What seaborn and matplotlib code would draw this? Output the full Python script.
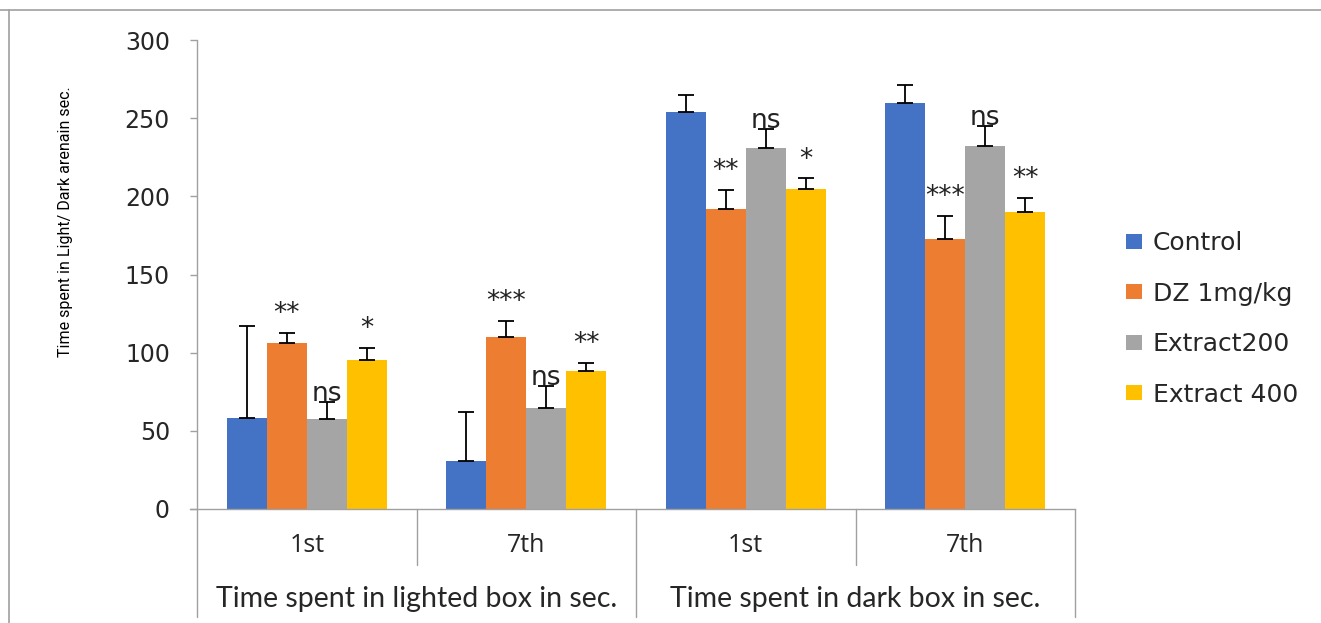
import matplotlib
matplotlib.use("Agg")
import matplotlib.pyplot as plt
import matplotlib.transforms as mtransforms
from matplotlib.lines import Line2D
import numpy as np
import pandas as pd
import seaborn as sns

# ---- data -------------------------------------------------------------
treatments = ["Control", "DZ 1mg/kg", "Extract200", "Extract 400"]
conditions = ["light_1st", "light_7th", "dark_1st", "dark_7th"]
day_labels = ["1st", "7th", "1st", "7th"]
box_labels = ["Time spent in lighted box in sec.", "Time spent in dark box in sec."]

control_mean = [58, 31, 254, 260]
dz_mean = [106, 110, 192, 173]
ext200_mean = [57.5, 64.5, 231, 232]
ext400_mean = [95, 88.5, 205, 190]

control_err = [59, 31, 11, 11]
dz_err = [6.5, 10.5, 12, 14.5]
ext200_err = [11, 14, 12, 13]
ext400_err = [8, 5, 6.5, 9]

control_sig = ["", "", "", ""]
dz_sig = ["**", "***", "**", "***"]
ext200_sig = ["ns", "ns", "ns", "ns"]
ext400_sig = ["*", "**", "*", "**"]

colors = ["#4472C4", "#ED7D31", "#A5A5A5", "#FFC000"]

means = [control_mean, dz_mean, ext200_mean, ext400_mean]
errs = [control_err, dz_err, ext200_err, ext400_err]
sigs = [control_sig, dz_sig, ext200_sig, ext400_sig]

df = pd.DataFrame(
    [(c, t, m[i]) for t, m in zip(treatments, means) for i, c in enumerate(conditions)],
    columns=["condition", "treatment", "time"],
)

# ---- figure -----------------------------------------------------------
sns.set_style("white")
plt.rcParams["font.family"] = ["DejaVu Sans"]

fig = plt.figure(figsize=(13.21, 6.23), dpi=100)
ax = fig.add_axes([197 / 1321, 1 - 509 / 623, (1075 - 197) / 1321, (509 - 40) / 623])

sns.barplot(
    data=df, x="condition", y="time", hue="treatment",
    order=conditions, hue_order=treatments, palette=colors,
    width=0.727, errorbar=None, saturation=1, linewidth=0, ax=ax, legend=True,
)

# error bars (upper direction) and significance marks
for cont, err, sig in zip(ax.containers, errs, sigs):
    xs = np.array([p.get_x() + p.get_width() / 2 for p in cont.patches])
    ys = np.array([p.get_height() for p in cont.patches])
    ax.errorbar(xs, ys, yerr=[np.zeros_like(ys), np.array(err)], fmt="none",
                ecolor="black", elinewidth=1.3, capsize=6, capthick=1.3, zorder=5)
    for x, y, e, s in zip(xs, ys, err, sig):
        if not s:
            continue
        if s == "ns":
            ax.text(x, y + e + 5, s, ha="center", va="center", fontsize=19,
                    color="#222222", zorder=6)
        else:
            ax.text(x, y + e + 12, s, ha="center", va="center", fontsize=19,
                    color="#222222", zorder=6)

ax.set_xlim(-0.5, 3.5)
ax.set_ylim(0, 300)
ax.set_yticks(np.arange(0, 301, 50))
ax.tick_params(axis="y", labelsize=17, length=5, width=1, color="#A0A0A0",
               labelcolor="#262626", pad=14.5, direction="out", left=True)
ax.set_xticks([])
ax.set_xlabel("")
ax.set_ylabel("")

for side in ["top", "right", "left"]:
    ax.spines[side].set_visible(False)
ax.spines["bottom"].set_color("#A0A0A0")
ax.spines["bottom"].set_linewidth(1)
ax.spines["bottom"].set_bounds(-0.5 - 7 / 219.5, 3.5)

# category frame below the plot
trans = mtransforms.blended_transform_factory(ax.transData, ax.transAxes)
y_day = -(565 - 509) / 469
y_box = -(617 - 509) / 469
for xv, ylow, ytop in [(-0.5, y_box, 1.0), (0.5, y_day, 0), (1.5, y_box, 0),
                       (2.5, y_day, 0), (3.5, y_box, 0)]:
    ax.add_line(Line2D([xv, xv], [ylow, ytop], transform=trans, color="#A0A0A0",
                       lw=1, clip_on=False))

for i, lab in enumerate(day_labels):
    ax.text(i, -(545 - 509) / 469, lab, transform=trans, ha="center", va="center",
            fontsize=18, color="#262626", family=["Open Sans", "DejaVu Sans"])
for j, lab in enumerate(box_labels):
    ax.text(0.5 + 2 * j, -(599 - 509) / 469, lab, transform=trans, ha="center",
            va="center", fontsize=20.5, color="#262626",
            family=["Lato", "DejaVu Sans"])

fig.text(66 / 1321, 1 - 222 / 623, "Time spent in Light/ Dark arenain sec.",
         rotation=90, ha="center", va="center", fontsize=11.5, color="#000000",
         family=["Liberation Sans Narrow", "Roboto", "DejaVu Sans"])

# legend
handles, labels = ax.get_legend_handles_labels()
ax.legend_.remove()
fig.legend(handles, labels, loc="center left", bbox_to_anchor=(1126 / 1321, 1 - 319 / 623),
           frameon=False, fontsize=18, handlelength=0.62, handleheight=0.55,
           handletextpad=0.45, labelspacing=1.06, borderpad=0, borderaxespad=0,
           labelcolor="#262626")

# outer frame lines
fig.add_artist(Line2D([0, 1], [1 - 10 / 623] * 2, transform=fig.transFigure,
                      color="#A0A0A0", lw=1.2))
fig.add_artist(Line2D([9 / 1321] * 2, [0, 1 - 10 / 623], transform=fig.transFigure,
                      color="#A0A0A0", lw=1.2))

fig.savefig("out.png", dpi=100)
